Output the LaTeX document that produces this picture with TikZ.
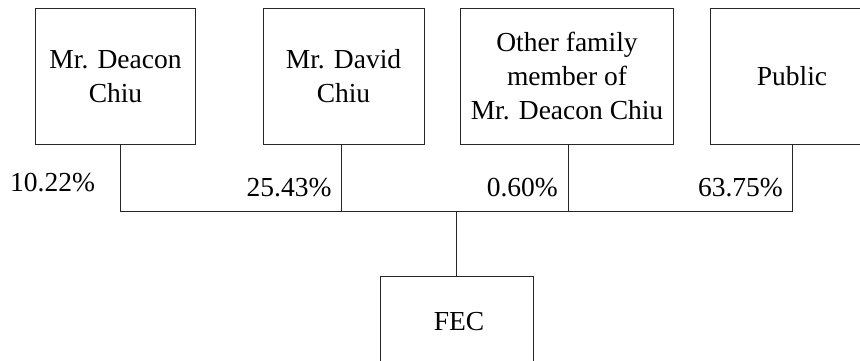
\documentclass[tikz,border=0pt]{standalone}
\usepackage{fontspec}
\setmainfont{Liberation Serif}
\begin{document}
\begin{tikzpicture}[x=1pt,y=-1pt,
  box/.style={draw=black!85,line width=1pt,inner sep=0pt,align=center,minimum height=135pt,
    font=\fontsize{27.5}{34}\selectfont},
  pct/.style={inner sep=0pt,font=\fontsize{27.5}{34}\selectfont},
  conn/.style={draw=black!85,line width=1pt}]
\useasboundingbox (0,0) rectangle (860,361);
\clip (0,0) rectangle (860,361);
\node[box,minimum width=160pt] (b1) at (115.5,76.5) {Mr. Deacon\\Chiu};
\node[box,minimum width=161pt] (b2) at (343.5,76.5) {Mr. David\\Chiu};
\node[box,minimum width=213pt] (b3) at (567,76.5) {Other family\\member of\\Mr. Deacon Chiu};
\node[box,minimum width=164pt] (b4) at (792,76.5) {Public};
\node[box,minimum width=153pt] (fec) at (456.5,343.5) {};
\node[pct] at (459,321.5) (fect) {FEC};
\coordinate (j1) at (120,211);
\coordinate (j2) at (341,211);
\coordinate (j3) at (568.3,211);
\coordinate (j4) at (792.7,211);
\coordinate (jf) at (456.7,211);
\draw[conn] (b1.south -| j1) -- (j1) -- (j4) -- (b4.south -| j4);
\draw[conn] (b2.south -| j2) -- (j2);
\draw[conn] (b3.south -| j3) -- (j3);
\draw[conn] (jf) -- (fec.north -| jf);
\node[pct,anchor=base west] (p1) at (10,191.7) {10.22\%};
\node[pct,anchor=base east] (p2) at (331.7,196.7) {25.43\%};
\node[pct,anchor=base east] (p3) at (558,196.7) {0.60\%};
\node[pct,anchor=base east] (p4) at (783,196.7) {63.75\%};
\end{tikzpicture}
\end{document}
